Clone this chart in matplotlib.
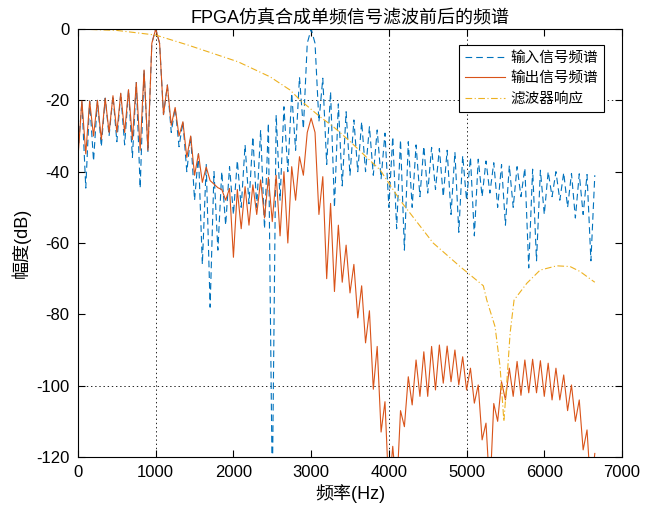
#! python3
# FPGA simulated single-tone signal: spectrum before / after filtering

import numpy as np
import matplotlib
matplotlib.use('Agg')
import matplotlib.pyplot as plt

plt.rcParams['font.family'] = ['Liberation Sans', 'Noto Sans CJK SC', 'DejaVu Sans']
plt.rcParams['lines.scale_dashes'] = False
plt.rcParams['axes.unicode_minus'] = False

# spectrum sampled every 50 Hz (nulls at multiples of 100, lobe peaks in between)
freq = np.arange(0, 6700, 50)

input_db = [
    -35, -20.2, -44.6, -20.2, -37, -20, -33, -19.4, -30, -18.7,
    -31.6, -18, -32.5, -17, -36, -15, -44.6, -11.5, -34.5, -4,
    0, -4, -24, -15.7, -29, -22, -33, -26, -40, -30,
    -48, -35, -66, -38, -78, -40, -62, -40, -55, -38.6,
    -52, -36.9, -50, -32.5, -49, -30.2, -50, -28.3, -56, -26.4,
    -130, -24.1, -48, -21.8, -40, -18, -34, -13.5, -28, -4,
    0, -4, -26, -13.8, -38, -17.6, -50, -21, -44, -23.2,
    -41, -25.5, -40, -26, -40, -27.4, -41, -28.3, -42, -29.2,
    -50, -30.2, -56, -31.1, -62, -31.6, -50, -32.5, -47, -32.9,
    -46, -33.2, -45, -33.5, -47, -34, -52, -34.5, -57, -35.5,
    -48, -36, -58, -36.5, -47, -37, -46, -37.5, -50, -38,
    -55, -38.3, -50, -38.6, -47, -39, -67, -39.3, -65, -39.6,
    -52, -40, -47, -40, -48, -40.3, -50, -40.5, -53, -40.6,
    -52, -40.8, -65, -41,
]

output_db = [
    -36, -20.2, -35, -20.2, -30, -20, -31, -19.4, -29, -18.7,
    -29, -18, -29, -17, -31, -15, -34, -11.5, -34, -4,
    0, -4, -24, -15.7, -27, -22, -30, -26, -36, -30,
    -41, -35, -43, -38.7, -42.5, -43.5, -44.5, -45, -48, -44.7,
    -64, -45, -56, -44.2, -55, -43.7, -52, -42.3, -53, -41.6,
    -54, -41, -58, -40, -60, -38.6, -48, -35.8, -41, -29,
    -25, -29, -52, -41.4, -70, -48.9, -73.6, -55, -71, -60.6,
    -74, -66, -81, -72, -88, -79, -101, -89, -113, -104.5,
    -130, -117, -130, -107, -111.5, -97.5, -105.4, -92.8, -103, -90.5,
    -103, -89, -101.2, -88.6, -99.3, -88.9, -98.9, -90, -99.8, -91.9,
    -101.2, -95.1, -104.9, -99.8, -115.2, -110.5, -130, -105, -110, -98.9,
    -104, -95.1, -103, -93.2, -102.7, -92.8, -102, -92.6, -102, -93,
    -103, -93.7, -104, -95.1, -104, -97, -107, -99.8, -110, -104,
    -118, -112.4, -130, -119,
]

filter_f = [0, 500, 1000, 1415, 2060, 2471, 2728, 2857, 3114, 3286, 3500, 3715,
            3887, 4144, 4570, 4916, 5216, 5260, 5367, 5431, 5480, 5517, 5560,
            5611, 5775, 5946, 6160, 6332, 6461, 6611, 6650]
filter_db = [0, -0.4, -1.7, -4.5, -9.2, -13.4, -17.1, -19.9, -24.6, -27.4, -31.5, -36,
             -39.5, -48, -60, -66.6, -72, -76, -83.5, -94.7, -110, -99.3, -85.3,
             -76, -71.3, -67.6, -66.4, -66.6, -68, -70.4, -71]

labels = ['输入信号频谱', '输出信号频谱', '滤波器响应']
grid_x = [1000, 4000, 5000]
grid_y = [-20, -100]

fig = plt.figure(figsize=(6.62, 5.09), dpi=100)
ax = fig.add_axes([78/662, 52/509, 544/662, 428/509])

for gx in grid_x:
    ax.axvline(gx, color='k', lw=0.6, linestyle=(0, (1, 2)), zorder=0)
for gy in grid_y:
    ax.axhline(gy, color='k', lw=0.6, linestyle=(0, (1, 2)), zorder=0)

ax.plot(freq, input_db, color='#0072BD', lw=0.8, dashes=(4.8, 2.9), label=labels[0])
ax.plot(freq, output_db, color='#D95319', lw=0.8, label=labels[1])
ax.plot(filter_f, filter_db, color='#EDB120', lw=0.8, dashes=(4.8, 1.8, 0.8, 1.8), label=labels[2])

ax.set_xlim(0, 7000)
ax.set_ylim(-120, 0)
ax.set_xticks(range(0, 7001, 1000))
ax.set_yticks(range(-120, 1, 20))
ax.tick_params(direction='in', top=True, right=True, labelsize=12, length=5, width=0.8, pad=6)
for s in ax.spines.values():
    s.set_linewidth(0.8)

ax.set_title('FPGA仿真合成单频信号滤波前后的频谱', fontsize=13, pad=4)
ax.set_xlabel('频率(Hz)', fontsize=13, labelpad=3)
ax.set_ylabel('幅度(dB)', fontsize=13, labelpad=4)

leg = ax.legend(loc='upper right', bbox_to_anchor=(0.967, 0.963), borderaxespad=0,
                fontsize=10.5, fancybox=False, framealpha=1, edgecolor='k',
                handlelength=2.7, borderpad=0.4, labelspacing=0.45, handletextpad=0.4)
leg.get_frame().set_linewidth(0.8)

plt.savefig('out.png', dpi=100)
